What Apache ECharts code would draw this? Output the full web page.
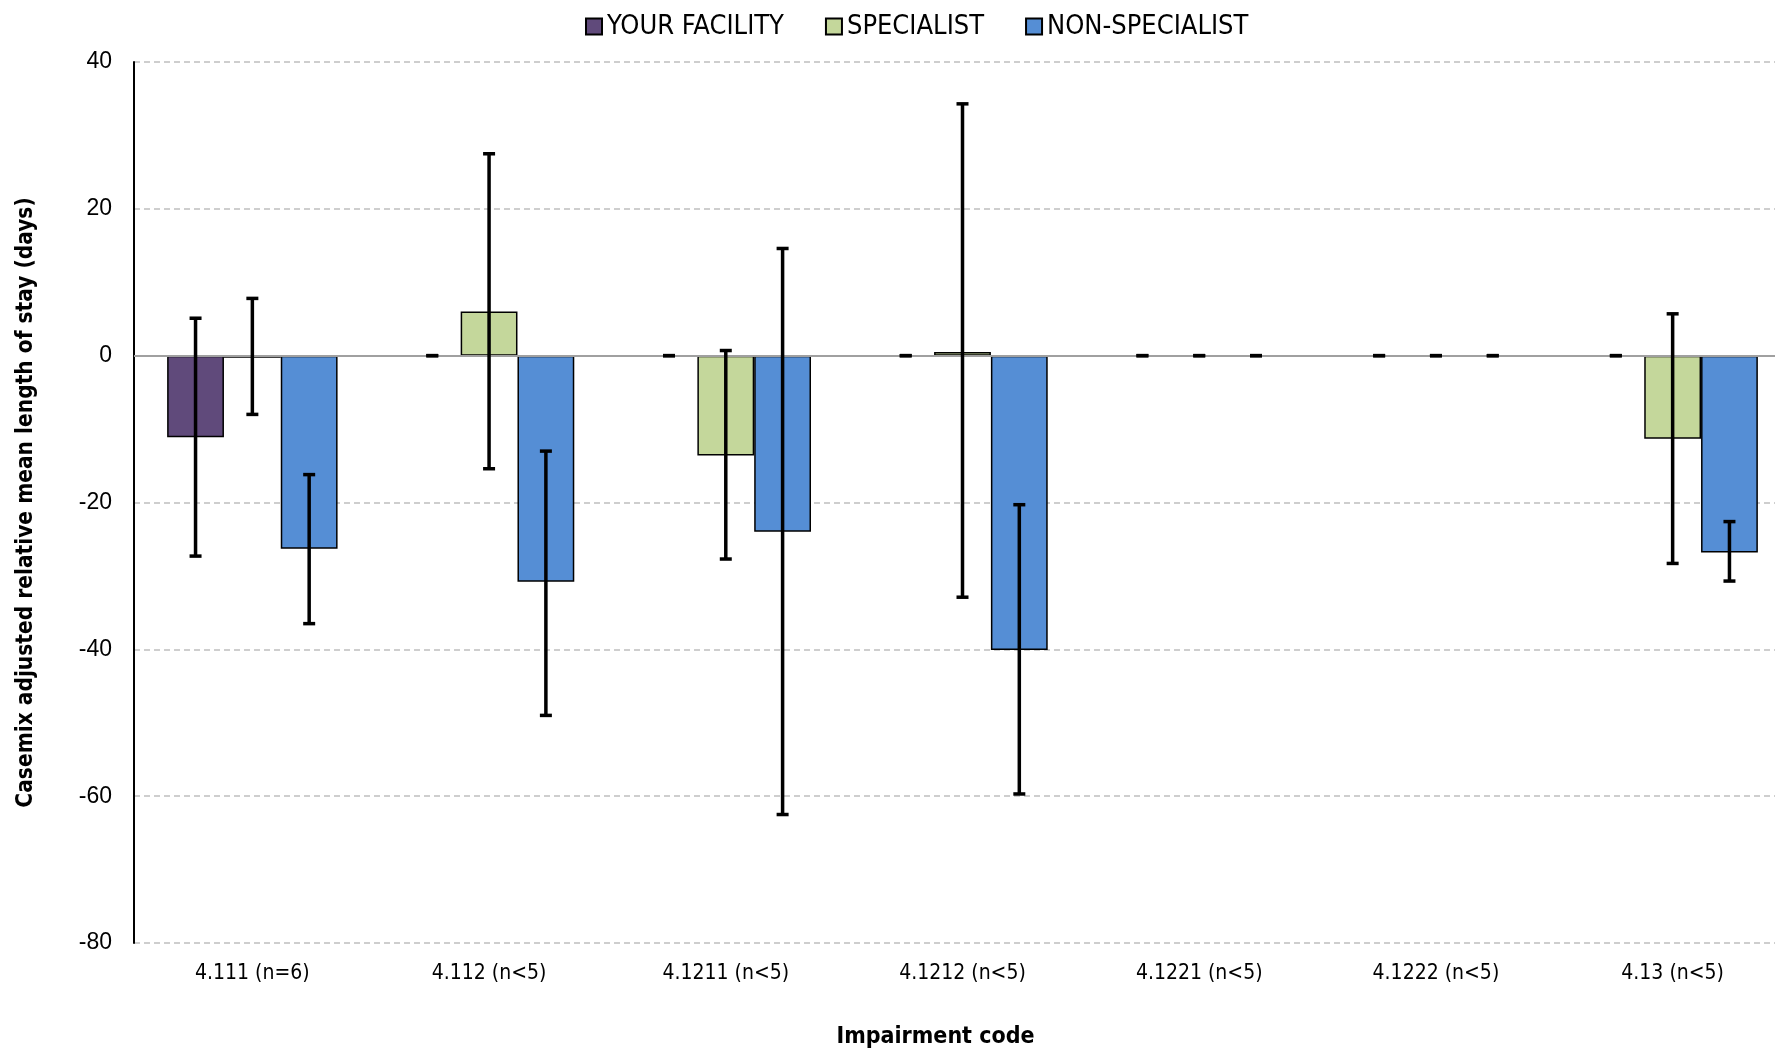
<!DOCTYPE html>
<html>
<head>
<meta charset="utf-8">
<script src="https://cdn.jsdelivr.net/npm/echarts@6/dist/echarts.min.js"></script>
</head>
<body style="margin:0">
<div id="container" style="width:1775px;height:1050px"></div>
<script type="text/javascript">
    // impairment codes on the x axis
    var categories = ['4.111 (n=6)', '4.112 (n<5)', '4.1211 (n<5)', '4.1212 (n<5)', '4.1221 (n<5)', '4.1222 (n<5)', '4.13 (n<5)'];
    var seriesNames = ['YOUR FACILITY', 'SPECIALIST', 'NON-SPECIALIST'];
    var yTicks = [-80, -60, -40, -20, 0, 20, 40];

    // bar values (null = no bar)
    var facility = [-11.1, null, null, null, null, null, null];
    var specialist = [-0.3, 6.0, -13.6, 0.5, null, null, -11.3];
    var nonSpecialist = [-26.3, -30.8, -24.0, -40.1, null, null, -26.8];

    // error bar ends
    var facilityLow = [-27.3, 0, 0, 0, 0, 0, 0];
    var facilityHigh = [5.1, 0, 0, 0, 0, 0, 0];
    var specialistLow = [-8.0, -15.4, -27.7, -32.9, 0, 0, -28.3];
    var specialistHigh = [7.8, 27.5, 0.7, 34.3, 0, 0, 5.7];
    var nonSpecialistLow = [-36.5, -49.0, -62.5, -59.7, 0, 0, -30.7];
    var nonSpecialistHigh = [-16.2, -13.0, 14.6, -20.3, 0, 0, -22.6];

    var colors = ['#604A7B', '#C4D79B', '#558ED5'];
    var narrow = '"Liberation Sans Narrow", "DejaVu Sans Condensed", "Arial Narrow", sans-serif';
    var gapPct = 0.28;

    var myChart = echarts.init(document.getElementById('container'));

    function errData(low, high) {
        var out = [];
        for (var i = 0; i < low.length; i++) {
            out.push([i, low[i], high[i]]);
        }
        return out;
    }

    function errSeries(k, low, high) {
        return {
            type: 'custom',
            name: seriesNames[k] + ' err',
            z: 10,
            silent: true,
            data: errData(low, high),
            encode: {x: 0, y: [1, 2]},
            renderItem: function (params, api) {
                var band = api.size([1, 0])[0];
                var bw = band * (1 - gapPct) / 3;
                var lo = api.coord([api.value(0), api.value(1)]);
                var hi = api.coord([api.value(0), api.value(2)]);
                var x = lo[0] + (k - 1) * bw;
                var cap = 6;
                var st = {stroke: '#000', lineWidth: 3.5};
                return {
                    type: 'group',
                    children: [
                        {type: 'line', shape: {x1: x, y1: lo[1], x2: x, y2: hi[1]}, style: st},
                        {type: 'line', shape: {x1: x - cap, y1: lo[1], x2: x + cap, y2: lo[1]}, style: st},
                        {type: 'line', shape: {x1: x - cap, y1: hi[1], x2: x + cap, y2: hi[1]}, style: st}
                    ]
                };
            }
        };
    }

    function barSeries(k, values) {
        return {
            name: seriesNames[k],
            type: 'bar',
            data: values,
            barGap: '0%',
            barCategoryGap: (gapPct * 100) + '%',
            itemStyle: {color: colors[k], borderColor: '#000', borderWidth: 1.5}
        };
    }

    var bars = [barSeries(0, facility), barSeries(1, specialist), barSeries(2, nonSpecialist)];
    bars[0].markLine = {
        silent: true,
        symbol: 'none',
        label: {show: false},
        lineStyle: {color: '#a0a0a0', type: 'solid', width: 2},
        data: [{yAxis: 0}]
    };

    var option = {
        animation: false,
        backgroundColor: '#fff',
        legend: {
            data: seriesNames,
            top: 8,
            left: 580,
            itemWidth: 16,
            itemHeight: 16,
            itemGap: 41,
            icon: 'rect',
            textStyle: {fontFamily: narrow, fontSize: 27, color: '#000'}
        },
        grid: {left: 134, right: -16, top: 62, bottom: 107, containLabel: false, outerBoundsMode: 'none'},
        xAxis: {
            type: 'category',
            data: categories,
            axisLine: {show: false},
            axisTick: {show: false},
            axisLabel: {margin: 20, fontFamily: narrow, fontSize: 21, color: '#000'},
            name: 'Impairment code',
            nameLocation: 'middle',
            nameGap: 83,
            nameTextStyle: {fontFamily: narrow, fontWeight: 'bold', fontSize: 23, color: '#000', padding: [0, 54, 0, 0]}
        },
        yAxis: {
            type: 'value',
            min: yTicks[0],
            max: yTicks[yTicks.length - 1],
            interval: 20,
            axisLine: {show: true, lineStyle: {color: '#000', width: 2}},
            axisTick: {show: false},
            axisLabel: {margin: 22, fontFamily: '"Liberation Sans", Arial, sans-serif', fontSize: 23, color: '#000'},
            splitLine: {lineStyle: {color: '#bfbfbf', type: [6, 4], width: 1.5}},
            name: 'Casemix adjusted relative mean length of stay (days)',
            nameLocation: 'middle',
            nameGap: 96,
            nameTextStyle: {fontFamily: narrow, fontWeight: 'bold', fontSize: 22.5, color: '#000'}
        },
        series: bars.concat([
            errSeries(0, facilityLow, facilityHigh),
            errSeries(1, specialistLow, specialistHigh),
            errSeries(2, nonSpecialistLow, nonSpecialistHigh)
        ])
    };
    myChart.setOption(option);
</script>
</body>
</html>
